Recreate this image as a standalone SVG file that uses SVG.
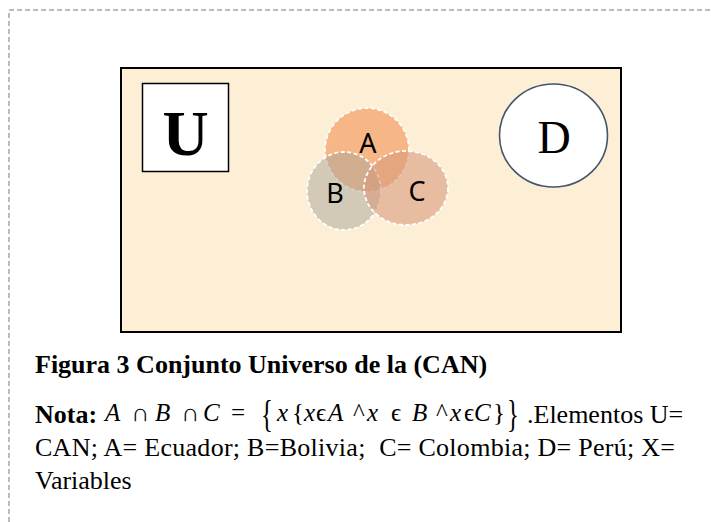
<svg xmlns="http://www.w3.org/2000/svg" width="712" height="522" viewBox="0 0 712 522">
<defs>
<style>
.frame{fill:none;stroke:#a6a6a6;stroke-width:1.5;stroke-dasharray:5 3}
.set{stroke:#ffffff;stroke-width:1.8;stroke-dasharray:4 2.5}
.lbl{font-family:"Noto Sans","Open Sans",sans-serif;font-size:27px;fill:#000;text-anchor:middle}
.cap{font-family:"Liberation Serif","Times New Roman",serif;font-size:26px;fill:#000}
.math{font-family:"Liberation Serif","DejaVu Serif",serif;font-style:italic;font-size:25px}
.up{font-style:normal}
.brace{font-family:"Liberation Serif","DejaVu Serif",serif;font-size:26px;fill:#000}
</style>
</defs>
<path class="frame" d="M9,522 V10 H712"/>
<g id="universe">
<rect x="121" y="68" width="500" height="264" fill="#fcefd6" stroke="#000" stroke-width="2"/>
</g>
<g id="U">
<rect x="142.5" y="83.5" width="86" height="88" fill="#fff" stroke="#000" stroke-width="1.5"/>
<text x="185.5" y="155" text-anchor="middle" font-family="Liberation Serif,serif" font-weight="bold" font-size="64">U</text>
</g>
<g id="A">
<circle class="set" cx="367" cy="150" r="42" fill="#f4a870" fill-opacity="0.8"/>
</g>
<g id="B">
<ellipse class="set" cx="344" cy="191" rx="37" ry="39" fill="#aaa397" fill-opacity="0.5"/>
</g>
<g id="C">
<ellipse class="set" cx="406" cy="188" rx="42" ry="37" fill="#d99a7c" fill-opacity="0.6"/>
</g>
<g id="labels">
<text class="lbl" x="368" y="153">A</text>
<text class="lbl" x="335" y="203">B</text>
<text class="lbl" x="417" y="201">C</text>
</g>
<g id="D">
<ellipse cx="553.5" cy="135.5" rx="54" ry="51.5" fill="#fff" stroke="#44546a" stroke-width="1.6"/>
<text x="554" y="153" text-anchor="middle" font-family="Liberation Serif,serif" font-size="46">D</text>
</g>
<g id="caption">
<text class="cap" x="35" y="373" font-weight="bold">Figura 3 Conjunto Universo de la (CAN)</text>
<text class="cap" x="35" y="423" font-weight="bold">Nota:</text>
<text class="math" y="421"><tspan x="105">A</tspan><tspan x="131" class="up">∩</tspan><tspan x="155">B</tspan><tspan x="181" class="up">∩</tspan><tspan x="203">C</tspan><tspan x="231" class="up">=</tspan><tspan x="277">x</tspan><tspan x="292" class="up">{</tspan><tspan x="304">x</tspan><tspan x="316" class="up">ϵ</tspan><tspan x="328">A</tspan><tspan x="353" class="up">^</tspan><tspan x="367">x</tspan><tspan x="391" class="up">ϵ</tspan><tspan x="412">B</tspan><tspan x="436" class="up">^</tspan><tspan x="450">x</tspan><tspan x="464" class="up">ϵ</tspan><tspan x="474">C</tspan><tspan x="493" class="up">}</tspan></text>
<text class="brace" transform="translate(261,427) scale(0.95,1.45)">{</text>
<text class="brace" transform="translate(507,427) scale(0.95,1.45)">}</text>
<text class="cap" x="527" y="423">.Elementos U=</text>
<text class="cap" x="35" y="456" textLength="640" lengthAdjust="spacing" xml:space="preserve">CAN; A= Ecuador; B=Bolivia;  C= Colombia; D= Perú; X=</text>
<text class="cap" x="35" y="489">Variables</text>
</g>
</svg>
